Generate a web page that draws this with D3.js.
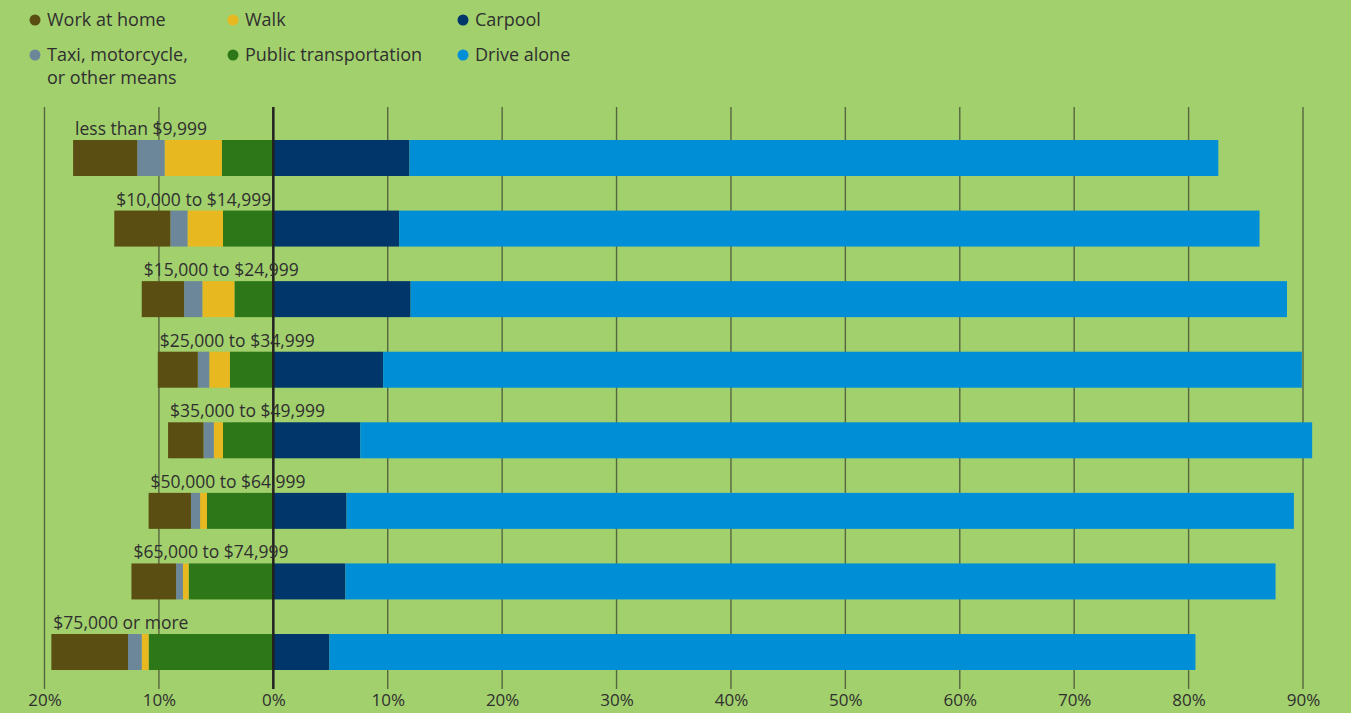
<!DOCTYPE html>
<html>
<head>
<meta charset="utf-8">
<script src="https://cdn.jsdelivr.net/npm/d3@7"></script>
<style>
  body { margin:0; background:#a2d06d; }
  svg { display:block; }
  text { font-family:"Open Sans", sans-serif; fill:#2f2f2f; }
</style>
</head>
<body>
<div id="chart"></div>
<script>
// income groups, top to bottom
var categories = ["less than $9,999", "$10,000 to $14,999", "$15,000 to $24,999", "$25,000 to $34,999",
                  "$35,000 to $49,999", "$50,000 to $64,999", "$65,000 to $74,999", "$75,000 or more"];

// share of workers, % (left side of zero)
var transit    = [4.5, 4.4, 3.4, 3.8, 4.4, 5.8, 7.4, 10.9];
var walk       = [5.0, 3.1, 2.8, 1.8, 0.8, 0.6, 0.5, 0.6];
var taxi       = [2.4, 1.5, 1.6, 1.0, 0.9, 0.8, 0.6, 1.2];
var workAtHome = [5.6, 4.9, 3.7, 3.5, 3.1, 3.7, 3.9, 6.7];
// right side of zero
var carpool    = [11.9, 11.0, 12.0, 9.6, 7.6, 6.4, 6.3, 4.9];
var driveAlone = [70.7, 75.2, 76.6, 80.3, 83.2, 82.8, 81.3, 75.7];

var tickValues = [-20, -10, 0, 10, 20, 30, 40, 50, 60, 70, 80, 90];

var keys = ["transit", "walk", "taxi", "workAtHome", "carpool", "driveAlone"];
var colors = {workAtHome:"#5b4e12", taxi:"#6d879a", walk:"#e8b820", transit:"#2e7719", carpool:"#00366a", driveAlone:"#008ed6"};

var legendRows = [
  [{key:"workAtHome", label:["Work at home"]}, {key:"walk", label:["Walk"]}, {key:"carpool", label:["Carpool"]}],
  [{key:"taxi", label:["Taxi, motorcycle,", "or other means"]}, {key:"transit", label:["Public transportation"]}, {key:"driveAlone", label:["Drive alone"]}]
];

var fullWidth = 1351, fullHeight = 713;

var svg = d3.select("#chart").append("svg")
  .attr("width", fullWidth)
  .attr("height", fullHeight);

svg.append("rect").attr("width", fullWidth).attr("height", fullHeight).attr("fill", "#a2d06d");

// rows for the stack, left side as negatives
var rows = categories.map(function(c, i) {
  return {cat:c, transit:-transit[i], walk:-walk[i], taxi:-taxi[i], workAtHome:-workAtHome[i],
          carpool:carpool[i], driveAlone:driveAlone[i]};
});
var series = d3.stack().keys(keys).offset(d3.stackOffsetDiverging)(rows);

var xScale = d3.scaleLinear().domain([-20, 90]).range([44.5, 1303]);
var yScale = d3.scaleBand().domain(categories).range([122.7, 687.3]).paddingInner(0.49).paddingOuter(0.245);

var gridTop = 107, gridBottom = 689;

// grid lines
svg.append("g").selectAll("line")
  .data(tickValues.filter(function(d){ return d != 0; }))
  .enter().append("line")
  .attr("x1", function(d){ return xScale(d); })
  .attr("x2", function(d){ return xScale(d); })
  .attr("y1", gridTop).attr("y2", gridBottom)
  .attr("stroke", "#56663f").attr("stroke-width", 1.4);

// bars
svg.append("g").selectAll("g")
  .data(series)
  .enter().append("g")
  .attr("fill", function(d){ return colors[d.key]; })
  .selectAll("rect")
  .data(function(d){ return d; })
  .enter().append("rect")
  .attr("x", function(d){ return xScale(Math.min(d[0], d[1])); })
  .attr("width", function(d){ return Math.abs(xScale(d[1]) - xScale(d[0])); })
  .attr("y", function(d){ return yScale(d.data.cat); })
  .attr("height", yScale.bandwidth());

// zero line
svg.append("line")
  .attr("x1", xScale(0)).attr("x2", xScale(0))
  .attr("y1", gridTop).attr("y2", gridBottom)
  .attr("stroke", "#231f20").attr("stroke-width", 2.5);

// category labels above left end of each bar
svg.append("g").selectAll("text")
  .data(categories)
  .enter().append("text")
  .attr("x", function(d, i){
    var left = transit[i] + walk[i] + taxi[i] + workAtHome[i];
    return xScale(-left) + 2;
  })
  .attr("y", function(d){ return yScale(d) - 5; })
  .style("font-size", "17.5px")
  .text(function(d){ return d; });

// axis labels
var xAxis = d3.axisBottom(xScale).tickValues(tickValues)
  .tickSize(0).tickPadding(0)
  .tickFormat(function(d){ return Math.abs(d) + "%"; });
var ax = svg.append("g").attr("transform", "translate(0,706)").call(xAxis);
ax.select(".domain").remove();
ax.selectAll("text").style("font-size", "17px").attr("fill", "#2f2f2f").attr("dy", "0")
  .style("font-family", "'Open Sans', sans-serif");

// legend
var legendX = [35, 233, 463], legendY = [20, 55];
legendRows.forEach(function(row, r) {
  row.forEach(function(item, c) {
    var g = svg.append("g").attr("transform", "translate(" + legendX[c] + "," + legendY[r] + ")");
    g.append("circle").attr("r", 5.5).attr("fill", colors[item.key]);
    item.label.forEach(function(line, k) {
      g.append("text").attr("x", 12).attr("y", k * 22.5).attr("dy", "0.35em")
        .style("font-size", "18px").text(line);
    });
  });
});
</script>
</body>
</html>
